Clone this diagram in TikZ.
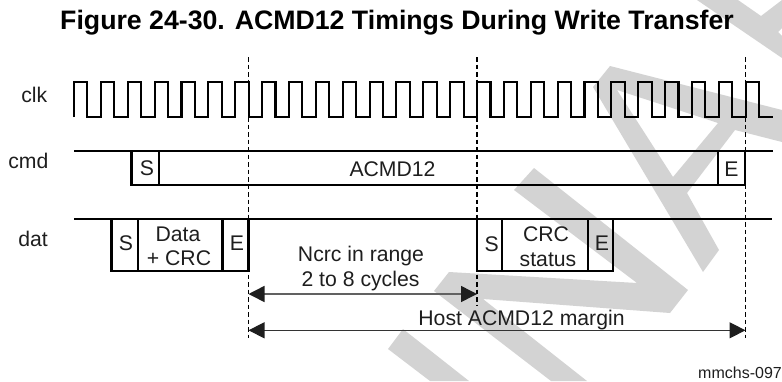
\documentclass[tikz,border=0pt]{standalone}
\usepackage{fontspec}
\setmainfont{Liberation Sans}
\usetikzlibrary{arrows.meta}
\definecolor{wm}{HTML}{D3D3D3}
\definecolor{ink}{HTML}{1E1E1E}
\tikzset{
  wave/.style={line width=2.1bp,black,line join=miter},
  framebox/.style={line width=2.1bp,black,line join=miter},
  guide/.style={line width=1.1bp,black,dash pattern=on 4.5bp off 3bp},
  span/.style={line width=1.1bp,{Triangle[length=16bp,width=16bp,color=ink]}-{Triangle[length=16bp,width=16bp,color=ink]}},
  lbl/.style={font=\fontsize{21.2bp}{24bp}\selectfont,text=ink,inner sep=0pt,anchor=base},
  ttl/.style={font=\fontsize{26.7bp}{28bp}\selectfont\bfseries,text=black,inner sep=0pt,anchor=base},
  tag/.style={font=\fontsize{16bp}{18bp}\selectfont,text=ink,inner sep=0pt,anchor=base east}
}
\begin{document}
\begin{tikzpicture}[x=1bp,y=-1bp]
\useasboundingbox (0,0) rectangle (782,381);
% watermark
\begin{scope}
\clip (0,0) rectangle (782,381);
\fill[wm] (697,0) -- (738,0) -- (761,16) -- (782,0) -- (782,28) -- (778,32) -- (782,36) -- (782,58) -- cycle;
\fill[wm,even odd rule] (610,66) -- (782,110) -- (782,142) -- (735,130) -- (687,193) -- (719,250) -- (703,272) -- (593,87) -- cycle
  (617,90) -- (718,123) -- (673,177) -- cycle;
\fill[wm] (534,168) -- (688,290) -- (670,313) -- (483,299) -- (587,381) -- (551,381) -- (434,291) -- (449,272) -- (637,283) -- (514,190) -- cycle;
\fill[wm] (403,329) -- (469,381) -- (430,381) -- (388,349) -- cycle;
\end{scope}
% guides
\coordinate (g1t) at (248.5,57); \coordinate (g1b) at (248.5,338);
\coordinate (g2t) at (477,57);   \coordinate (g2b) at (477,306);
\coordinate (g3t) at (745.5,57); \coordinate (g3b) at (745.5,338);
\draw[guide] (g1t) -- (g1b);
\draw[guide] (g2t) -- (g2b);
\draw[guide] (g3t) -- (g3b);
% clock
\draw[wave] (74,117)
  \foreach \i in {0,...,25} {
    -- ({74+26.87*\i},117) -- ({74+26.87*\i},82) -- ({87.4+26.87*\i},82) -- ({87.4+26.87*\i},117)
  } -- (772.5,117);
% cmd
\draw[framebox] (74,151) -- (772.5,151);
\draw[framebox] (131.5,151) -- (131.5,185.3) -- (745.3,185.3) -- (745.3,151);
\draw[framebox] (158.7,151) -- (158.7,185.3);
\draw[framebox] (718,151) -- (718,185.3);
% dat
\draw[framebox] (74,219.3) -- (771.5,219.3);
\draw[framebox] (111.5,219.3) -- (111.5,271.3) -- (248.5,271.3) -- (248.5,219.3);
\draw[framebox] (138,219.3) -- (138,271.3);
\draw[framebox] (222.5,219.3) -- (222.5,271.3);
\draw[framebox] (477,219.3) -- (477,271.3) -- (613.3,271.3) -- (613.3,219.3);
\draw[framebox] (502,219.3) -- (502,271.3);
\draw[framebox] (587.7,219.3) -- (587.7,271.3);
% spans
\coordinate (a1l) at (248.5,294); \coordinate (a1r) at (477,294);
\coordinate (a2l) at (248.5,330.3); \coordinate (a2r) at (745.5,330.3);
\draw[span,draw=black!62,line width=1.5bp] (a1l) -- (a1r);
\draw[span,draw=black!80] (a2l) -- (a2r);
% text
\node[ttl] (title) at (397,29) {Figure 24-30. ACMD12 Timings During Write Transfer};
\node[lbl,anchor=base east] (clk) at (47.5,102.7) {clk};
\node[lbl,anchor=base east] (cmd) at (48.5,168.7) {cmd};
\node[lbl,anchor=base east] (dat) at (48,246) {dat};
\node[lbl] (cs) at (147,175.7) {S};
\node[lbl] (acmd) at (392.5,176) {ACMD12};
\node[lbl] (ce) at (731.5,176) {E};
\node[lbl] (ds) at (126,250.7) {S};
\node[lbl] (d1) at (178,241.7) {Data};
\node[lbl] (d2) at (179,265.8) {+ CRC};
\node[lbl] (de) at (237,250.7) {E};
\node[lbl] (ss) at (491.7,251) {S};
\node[lbl] (s1) at (546,241.7) {CRC};
\node[lbl] (s2) at (548,266) {status};
\node[lbl] (se) at (602,250.7) {E};
\node[lbl] (n1) at (361,261.7) {Ncrc in range};
\node[lbl] (n2) at (360.5,286) {2 to 8 cycles};
\node[lbl] (host) at (521.5,325) {Host ACMD12 margin};
\node[tag] (mm) at (782,378) {mmchs-097};
\end{tikzpicture}
\end{document}
